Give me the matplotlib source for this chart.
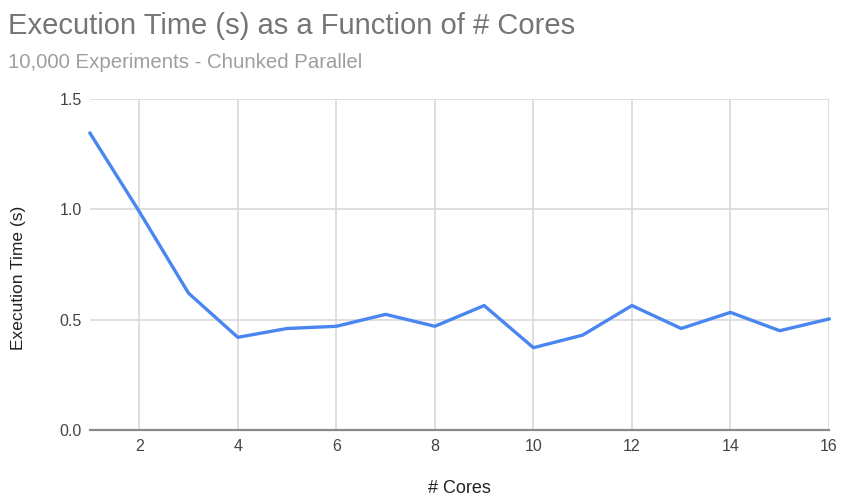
import matplotlib
matplotlib.use("Agg")
import matplotlib.pyplot as plt

plt.rcParams['font.family'] = ['Liberation Sans', 'DejaVu Sans']

cores = list(range(1, 17))
exec_time = [1.345, 0.99, 0.62, 0.42, 0.46, 0.47, 0.524, 0.47, 0.564,
             0.373, 0.43, 0.564, 0.46, 0.533, 0.45, 0.503]
x_ticks = [2, 4, 6, 8, 10, 12, 14, 16]
y_ticks = [0.0, 0.5, 1.0, 1.5]
y_tick_labels = ["0.0", "0.5", "1.0", "1.5"]

fig = plt.figure(figsize=(8.42, 4.97), dpi=100)
ax = fig.add_axes([90/842, 1-430/497, (829-90)/842, (430-99)/497])

ax.plot(cores, exec_time, color="#4a86f0", linewidth=2.4, solid_joinstyle="round", zorder=3, clip_on=False)

ax.set_xlim(1, 16)
ax.set_ylim(0, 1.5)
ax.set_xticks(x_ticks)
ax.set_yticks(y_ticks)
ax.set_yticklabels(y_tick_labels)
ax.grid(True, color="#d9d9d9", linewidth=1.2, zorder=0)
for s in ["top", "right", "left"]:
    ax.spines[s].set_visible(False)
ax.spines["bottom"].set_color("#8a8a8a")
ax.spines["bottom"].set_linewidth(1.6)
ax.spines["bottom"].set_zorder(4)
ax.tick_params(axis="both", length=0, labelsize=11.5, labelcolor="#444444")
ax.tick_params(axis="x", pad=6.5)
ax.tick_params(axis="y", pad=6)

ax.set_xlabel("# Cores", fontsize=13, color="#222222", labelpad=19)
ax.set_ylabel("Execution Time (s)", fontsize=12.5, color="#222222")
ax.yaxis.set_label_coords(-0.0866, 0.459)

fig.text(8/842, 1-26/497, "Execution Time (s) as a Function of # Cores",
         fontsize=21, color="#757575", va="center", ha="left")
fig.text(8/842, 1-62/497, "10,000 Experiments - Chunked Parallel",
         fontsize=14.7, color="#9e9e9e", va="center", ha="left")

fig.savefig("out.png", dpi=100)
